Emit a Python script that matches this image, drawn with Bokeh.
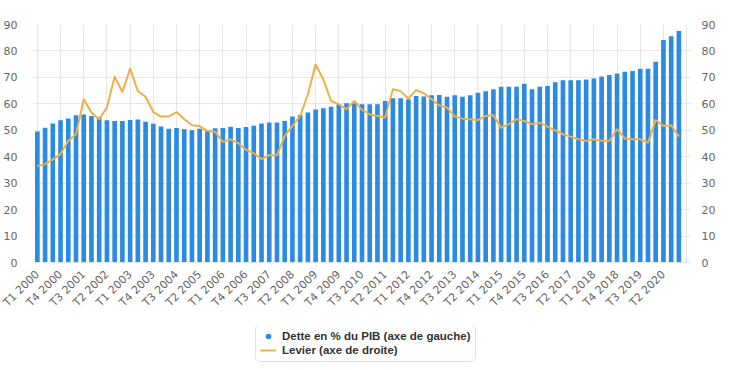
from bokeh.plotting import figure
from bokeh.layouts import column
from bokeh.models import (ColumnDataSource, Range1d, LinearAxis, FixedTicker,
                          Legend, LegendItem)
from bokeh.embed import file_html
from bokeh.resources import INLINE
from math import pi

# ---- data -------------------------------------------------------------
quarters = [f"T{q} {y}" for y in range(2000, 2021) for q in range(1, 5)]

dette = [
    49.5, 51.0, 52.6, 53.8, 54.5, 55.7, 56.0, 55.4, 55.0, 53.8,
    53.5, 53.5, 53.9, 54.1, 53.2, 52.5, 51.4, 50.6, 50.9, 50.4,
    50.0, 50.6, 50.0, 50.8, 50.9, 51.3, 50.9, 51.2, 51.7, 52.6,
    52.9, 52.9, 53.5, 55.2, 55.8, 56.7, 57.9, 58.3, 58.9, 59.8,
    60.2, 60.2, 59.8, 59.8, 59.8, 61.1, 62.1, 62.1, 61.7, 63.0,
    62.8, 63.2, 63.3, 62.7, 63.2, 62.7, 63.2, 64.2, 64.8, 65.5,
    66.5, 66.5, 66.5, 67.6, 65.5, 66.5, 66.7, 68.2, 68.9, 68.9,
    68.9, 69.2, 69.6, 70.3, 70.9, 71.5, 72.1, 72.4, 73.3, 73.3,
    75.9, 84.1, 85.6, 87.5,
]

levier = [
    36.5, 37.2, 39.0, 41.0, 46.0, 48.5, 61.7, 56.7, 54.2, 58.6,
    70.3, 64.5, 73.3, 64.8, 62.7, 56.9, 55.2, 55.2, 56.9, 54.2,
    51.9, 51.6, 49.7, 49.4, 45.6, 46.6, 45.1, 42.6, 41.3, 39.1,
    40.6, 40.6, 47.9, 51.7, 55.4, 63.6, 74.9, 69.2, 61.1, 59.8,
    57.9, 61.1, 57.7, 56.0, 55.4, 54.8, 65.5, 64.8, 62.0, 65.2,
    64.0, 61.7, 59.4, 58.6, 55.2, 54.4, 54.2, 53.8, 55.4, 55.7,
    51.0, 52.3, 54.2, 53.5, 52.3, 52.9, 51.4, 50.0, 48.5, 47.6,
    46.6, 46.0, 46.6, 46.0, 46.0, 50.4, 46.9, 46.6, 46.6, 45.3,
    53.9, 51.6, 51.9, 47.6,
]

y_ticks = [0, 10, 20, 30, 40, 50, 60, 70, 80, 90]
label_step = 3

label_dette = "Dette en % du PIB (axe de gauche)"
label_levier = "Levier (axe de droite)"

# ---- styling ----------------------------------------------------------
BLUE = "#2b8ae2"
ORANGE = "#efb043"
GRID = "#e6e6e6"
LABEL = "#666666"
FONT = "DejaVu Sans"

n = len(quarters)
src = ColumnDataSource(dict(x=list(range(n)), dette=dette, levier=levier))

p = figure(width=727, height=325,
           x_range=Range1d(-0.5, n + 0.5), y_range=Range1d(0, 90),
           output_backend="svg", toolbar_location=None,
           min_border_left=27, min_border_right=37,
           min_border_top=24, min_border_bottom=63,
           background_fill_color="white", border_fill_color="white",
           outline_line_color=None)
p.extra_y_ranges = {"right": Range1d(0, 90)}

bars = p.vbar(x="x", top="dette", width=0.6, source=src,
              fill_color=BLUE, line_color=None)
line = p.line(x="x", y="levier", source=src, y_range_name="right",
              line_color=ORANGE, line_width=2, line_join="round")

# x axis
tick_pos = list(range(0, n, label_step))
xa = p.xaxis[0]
xa.ticker = FixedTicker(ticks=tick_pos)
xa.major_label_overrides = {i: quarters[i] for i in tick_pos}
xa.major_label_orientation = pi / 4
xa.major_label_text_font = FONT
xa.major_label_text_font_size = "11px"
xa.major_label_text_color = LABEL
xa.major_tick_line_color = None
xa.minor_tick_line_color = None
xa.axis_line_color = GRID
xa.major_label_standoff = 4

p.xgrid.ticker = FixedTicker(ticks=list(range(0, n + 1, label_step)))
p.xgrid.grid_line_color = GRID

# left axis
ya = p.yaxis[0]
ya.ticker = FixedTicker(ticks=y_ticks)
p.ygrid.ticker = FixedTicker(ticks=y_ticks)
p.ygrid.grid_line_color = GRID

ra = LinearAxis(y_range_name="right", ticker=FixedTicker(ticks=y_ticks))
p.add_layout(ra, "right")

for ax, stand in ((ya, 10), (ra, 5)):
    ax.major_label_text_font = FONT
    ax.major_label_text_font_size = "11px"
    ax.major_label_text_color = LABEL
    ax.major_tick_line_color = None
    ax.minor_tick_line_color = None
    ax.axis_line_color = None
    ax.major_label_standoff = stand

# ---- legend strip (separate small figure under the chart) -------------
pl = figure(width=727, height=37, x_range=Range1d(1, 2), y_range=Range1d(1, 2),
            output_backend="svg", toolbar_location=None,
            x_axis_type=None, y_axis_type=None,
            min_border_left=0, min_border_right=0,
            min_border_top=0, min_border_bottom=0,
            background_fill_color="white", border_fill_color="white",
            outline_line_color=None)
pl.grid.visible = False
# proxy renderers (their single point lies outside this strip's ranges)
dot = pl.scatter(x=[0], y=[0], marker="circle", size=10,
                 fill_color=BLUE, line_color=None)
seg = pl.line(x=[0, 0], y=[0, 0], line_color=ORANGE, line_width=2)

legend = Legend(
    items=[LegendItem(label=label_dette, renderers=[dot]),
           LegendItem(label=label_levier, renderers=[seg])],
    location=(222, 0),
    orientation="vertical",
    border_line_color="#c8c8c8", border_line_width=1, border_radius=5,
    background_fill_color="white", background_fill_alpha=1,
    label_text_font="Liberation Sans", label_text_font_style="bold",
    label_text_font_size="11.5px", label_text_color="#333333",
    padding=4, spacing=0, margin=0,
    label_height=14, glyph_height=14, glyph_width=16, label_standoff=6,
)
pl.add_layout(legend)

layout = column(p, pl, spacing=0)
open("out.html", "w").write(file_html(layout, INLINE))
